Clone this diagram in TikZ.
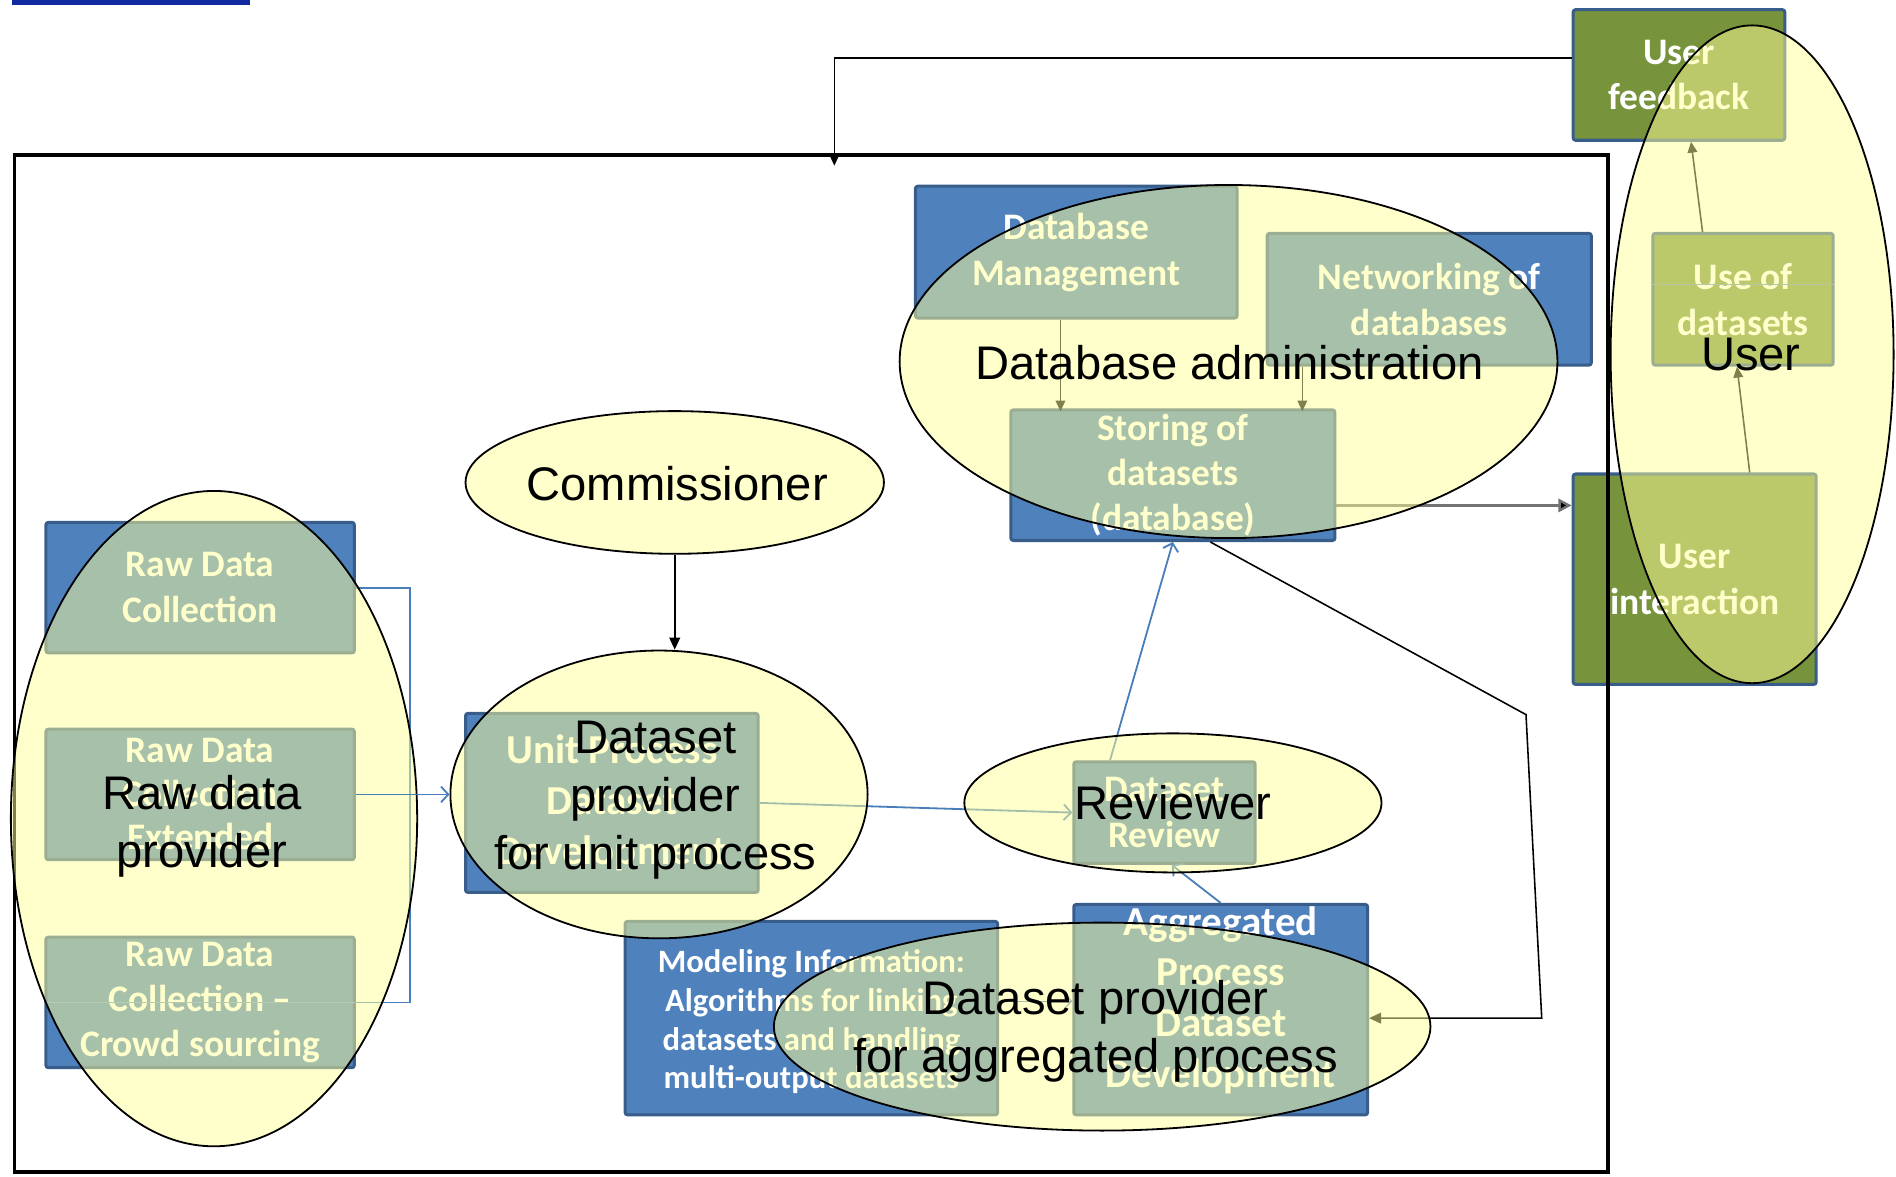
\documentclass[tikz,border=0pt]{standalone}
\usepackage{fontspec}
\setmainfont{Liberation Sans}
\newfontfamily\calfont{Carlito}
\usetikzlibrary{arrows.meta,shapes.geometric}
\definecolor{boxblue}{RGB}{79,129,189}
\definecolor{boxedge}{RGB}{56,93,138}
\definecolor{boxgreen}{RGB}{119,147,60}
\definecolor{ellfill}{RGB}{255,255,153}
\definecolor{linkblue}{RGB}{74,126,187}
\definecolor{topblue}{RGB}{16,40,160}
\begin{document}
\begin{tikzpicture}[x=1pt,y=-1pt,
  bx/.style={draw=boxedge, line width=2.5pt, fill=boxblue, text=white, align=center, inner sep=0pt, rounded corners=2pt,
    font=\calfont\bfseries\fontsize{31}{38}\selectfont},
  gbx/.style={bx, fill=boxgreen},
  bigtxt/.style={font=\calfont\bfseries\fontsize{34}{42}\selectfont},
  ell/.style={ellipse, draw=black, line width=1.5pt, fill=ellfill, fill opacity=0.5, inner sep=0pt},
  lbl/.style={font=\fontsize{39}{48}\selectfont, align=center, inner sep=0pt, text=black},
  blk/.style={draw=black, line width=1.3pt, -{Triangle[length=10pt,width=9pt]}},
  bl/.style={draw=linkblue, line width=1.5pt, -{Straight Barb[length=6pt,width=13pt]}},
]
\useasboundingbox (0,0) rectangle (1568,973);
\fill[topblue] (10,0) rectangle (207,4);

% ---------- boxes ----------
\node[bx, minimum width=266pt, minimum height=109pt] (dbm) at (890,208.5) {Database\\Management};
\node[bx, minimum width=268pt, minimum height=109pt] (net) at (1182,247.5) {Networking of\\databases};
\node[bx, minimum width=268pt, minimum height=108pt, font=\calfont\bfseries\fontsize{31}{37}\selectfont] (store) at (970,393) {Storing of\\datasets\\(database)};
\node[gbx, minimum width=175pt, minimum height=108pt] (fbB) at (1388.5,62) {User\\feedback};
\node[gbx, minimum width=149pt, minimum height=109pt] (useB) at (1441.5,247.5) {Use of\\datasets};
\node[gbx, minimum width=201pt, minimum height=174pt] (uiB) at (1401.5,479) {User\\interaction};
\node[bx, minimum width=255pt, minimum height=108pt] (rawA) at (165.5,486) {Raw Data\\Collection};
\node[bx, minimum width=255pt, minimum height=108pt, font=\calfont\bfseries\fontsize{31}{36}\selectfont] (rawB) at (165.5,657) {Raw Data\\Collection\\Extended};
\node[bx, minimum width=255pt, minimum height=108pt, font=\calfont\bfseries\fontsize{31}{37}\selectfont] (rawC) at (165.5,829) {Raw Data\\Collection –\\Crowd sourcing};
\node[bx, bigtxt, minimum width=242pt, minimum height=148pt] (unitB) at (506,664) {Unit Process\\Dataset\\Development};
\node[bx, minimum width=150pt, minimum height=84pt] (revB) at (963,672) {Dataset\\Review};
\node[bx, minimum width=243pt, minimum height=174pt] (aggB) at (1009.5,835) {};
\node[bigtxt, text=white, align=center, inner sep=0pt] (aggBT) at (1009.5,827) {Aggregated\\Process\\Dataset\\Development};
\node[bx, minimum width=308pt, minimum height=160pt, font=\calfont\bfseries\fontsize{27}{32}\selectfont] (modB) at (671,842) {};
\node[text=white, align=center, inner sep=0pt, font=\calfont\bfseries\fontsize{27}{32}\selectfont] (modBT) at (671,845) {Modeling Information:\\Algorithms for linking\\datasets and handling\\multi-output datasets};

% faint lines across boxes
\draw[linkblue!80, line width=1pt] (rawC.west) -- (rawC.east);
\draw[boxedge!70, line width=1pt] ([yshift=12pt]useB.west) -- ([yshift=12pt]useB.east);

% ---------- connectors ----------
\coordinate (fbOut) at ([yshift=14pt]fbB.west);
\coordinate (frameIn) at (690,137);
\draw[blk] (fbOut) -| (frameIn);

\draw[blk, -{Triangle[length=9pt,width=8pt]}] ([xshift=-13pt]dbm.south) -- ++(0,76);
\draw[blk, -{Triangle[length=9pt,width=8pt]}] ([xshift=-105pt]net.south) -- ++(0,37);

\coordinate (st418) at ([yshift=-25pt]store.east);
\draw[blk, draw=black!55, line width=2pt, -{Triangle[length=11pt,width=11pt,fill=black]}] (st418) -- (st418 -| uiB.west);

\draw[blk, -{Triangle[length=9pt,width=8pt]}] ([xshift=45.5pt]uiB.north) -- ([xshift=-5pt]useB.south);
\draw[blk, -{Triangle[length=9pt,width=8pt]}] ([xshift=-33.5pt]useB.north) -- ([xshift=10pt]fbB.south);

\coordinate (bendA) at (1262,591);
\coordinate (bendB) at (1275,842);
\draw[blk, -{Triangle[length=10pt,width=9pt]}] ([xshift=31pt]store.south) -- (bendA) -- (bendB) -- (bendB -| aggB.east);

\draw[bl] ([xshift=-45pt]revB.north) -- (store.south);
\draw[bl] ([xshift=0pt]aggB.north) -- ([xshift=6pt]revB.south);
\draw[bl] (unitB.east) -- (revB.west);

\draw[bl, -] (rawA.east) -- ++(45,0) |- (rawC.east);

\coordinate (mo) at ([yshift=14pt]modB.east);
\draw[bl, line width=1pt] (mo) -- (mo -| aggB.west);

% ---------- frame ----------
\node[draw=black, line width=3pt, minimum width=1318pt, minimum height=841pt, inner sep=0pt] (frame) at (671,548.5) {};

% ---------- ellipses ----------
\node[ell, minimum width=544pt, minimum height=292pt] (dbadm) at (1016,299) {};
\node[ell, minimum width=234pt, minimum height=544pt] (userE) at (1449,293) {};
\node[ell, minimum width=346pt, minimum height=118pt] (comm) at (558,399) {};
\node[ell, minimum width=336pt, minimum height=542pt] (rawE) at (177,677) {};
\node[ell, minimum width=345pt, minimum height=238pt] (unitE) at (545,657) {};
\node[ell, minimum width=345pt, minimum height=115pt] (revE) at (970,664) {};
\node[ell, minimum width=543pt, minimum height=172pt] (aggE) at (911.5,849) {};

\draw[blk] (comm.south) -- (comm.south |- unitE.north);
\draw[bl] (rawB.east) -- (unitE.west);

% ---------- ellipse labels ----------
\node[lbl] (dbadmT) at (1017,300) {Database administration};
\node[lbl] (userT) at (1448,293) {User};
\node[lbl] (commT) at (560,400) {Commissioner};
\node[lbl] (rawT) at (167,683) {Raw data\\provider};
\node[lbl] (unitT) at (542,662) {Dataset\\provider\\for unit process};
\node[lbl] (revT) at (970,664) {Reviewer};
\node[lbl] (aggT) at (906,853) {Dataset provider\\for aggregated process};
\end{tikzpicture}
\end{document}
